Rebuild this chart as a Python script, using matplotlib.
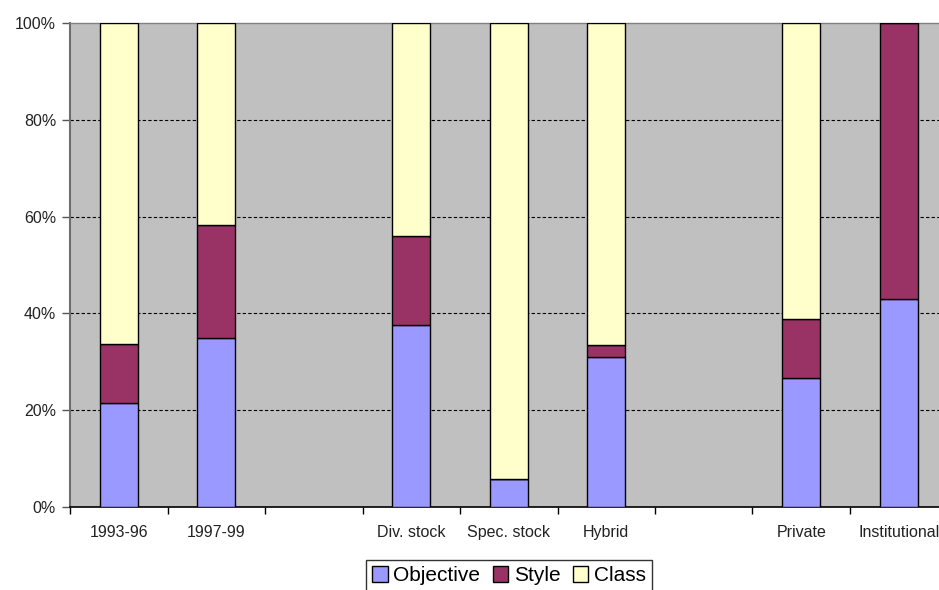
import numpy as np
import matplotlib
matplotlib.use("Agg")
import matplotlib.pyplot as plt
from matplotlib.ticker import FixedLocator, PercentFormatter

plt.rcParams["font.family"] = ["Liberation Sans", "DejaVu Sans"]

# Category slots ('' marks a spacer slot between groups)
categories = ["1993-96", "1997-99", "", "Div. stock", "Spec. stock", "Hybrid",
              "", "Private", "Institutional"]
objective = [21.5, 34.9, None, 37.6, 5.8, 31.0, None, 26.6, 43.0]
style = [12.2, 23.4, None, 18.4, 0.0, 2.5, None, 12.3, 57.0]
klass = [66.3, 41.7, None, 44.0, 94.2, 66.5, None, 61.1, 0.0]

series_names = ["Objective", "Style", "Class"]
colors = ["#9999FF", "#993366", "#FFFFCC"]

fig = plt.figure(figsize=(9.39, 5.90), dpi=100)
ax = fig.add_axes([70 / 939, 1 - 507 / 590, 877.5 / 939, 484 / 590])
ax.set_facecolor("#C0C0C0")

x = np.arange(len(categories))
filled = [i for i, c in enumerate(categories) if c]
width = 0.39

bottom = np.zeros(len(filled))
for name, vals, col in zip(series_names, [objective, style, klass], colors):
    h = np.array([vals[i] for i in filled], dtype=float)
    ax.bar(x[filled], h, width=width, bottom=bottom, color=col,
           edgecolor="black", linewidth=1.0, label=name, zorder=3)
    bottom += h

ax.set_xlim(-0.5, len(categories) - 0.5)
ax.set_ylim(0, 100)

# Gridlines
for gy in [20, 40, 60, 80]:
    ax.axhline(gy, color="black", linestyle=(0, (3, 2)), linewidth=0.8, zorder=1)

ax.yaxis.set_major_locator(FixedLocator([0, 20, 40, 60, 80, 100]))
ax.yaxis.set_major_formatter(PercentFormatter(decimals=0))
ax.tick_params(axis="y", direction="out", length=6, width=1, color="#555555",
               labelsize=11.5, labelcolor="#222222", pad=4)

# Category labels at centres, tick marks at slot boundaries
ax.set_xticks(x)
ax.set_xticklabels(categories)
ax.set_xticks(np.arange(len(categories) + 1) - 0.5, minor=True)
ax.tick_params(axis="x", which="major", length=0, labelsize=11.5,
               labelcolor="#222222", pad=13)
ax.tick_params(axis="x", which="minor", direction="out", length=5, width=1,
               color="black")

for side in ["top", "right"]:
    ax.spines[side].set_color("#808080")
    ax.spines[side].set_linewidth(1.0)
ax.spines["left"].set_color("#6e6e6e")
ax.spines["left"].set_linewidth(1.5)
ax.spines["bottom"].set_color("black")
ax.spines["bottom"].set_linewidth(1.2)

leg = fig.legend(loc="upper center", bbox_to_anchor=(509 / 939, 1 - 560 / 590),
                 ncol=3, fontsize=15, frameon=True, fancybox=False,
                 edgecolor="black", handlelength=0.75, handleheight=0.75,
                 handletextpad=0.25, columnspacing=0.6, borderpad=0.3,
                 borderaxespad=0)
leg.get_frame().set_linewidth(1.0)
leg.get_frame().set_facecolor("white")

fig.savefig("out.png", dpi=100)
